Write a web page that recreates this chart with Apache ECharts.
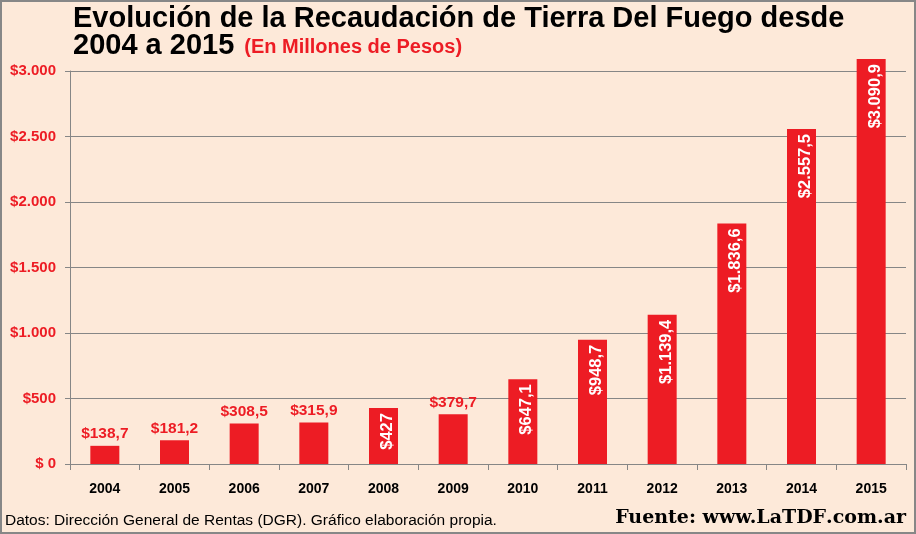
<!DOCTYPE html>
<html><head><meta charset="utf-8">
<script src="https://cdn.jsdelivr.net/npm/echarts@6/dist/echarts.min.js"></script>
<style>html,body{margin:0;padding:0;background:#FDE9D9;}#c{width:916px;height:534px;}</style>
</head><body><div id="c"></div>
<script>
const years = ['2004','2005','2006','2007','2008','2009','2010','2011','2012','2013','2014','2015'];
const values = [138.7,181.2,308.5,315.9,427,379.7,647.1,948.7,1139.4,1836.6,2557.5,3090.9];
const yTicks = [0,500,1000,1500,2000,2500,3000];
const titleLine1 = 'Evolución de la Recaudación de Tierra Del Fuego desde';
const titleLine2 = '2004 a 2015';
const subtitle = '(En Millones de Pesos)';
const footerLeft = 'Datos: Dirección General de Rentas (DGR). Gráfico elaboración propia.';

function fmtNum(v){
  const parts = String(v).split('.');
  const intp = parts[0].replace(/\B(?=(\d{3})+(?!\d))/g,'.');
  return parts.length>1 ? intp + ',' + parts[1] : intp;
}
const labelFmt = p => '$' + fmtNum(p.value);
const RED = '#ED1C24';
const chart = echarts.init(document.getElementById('c'));
const data = values.map(v => {
  const inside = v >= 400;
  return {
    value: v,
    label: inside ? {
      show: true, position: 'insideTop', rotate: 90, align: 'right', verticalAlign: 'middle',
      offset: [0, 4], color: '#fff', fontSize: 16.5, fontWeight: 'bold', fontFamily: 'Liberation Sans', formatter: labelFmt
    } : {
      show: true, position: 'top', distance: 4, color: RED, fontSize: 15.5, fontWeight: 'bold', fontFamily: 'Liberation Sans', formatter: labelFmt
    }
  };
});
chart.setOption({
  backgroundColor: '#FDE9D9',
  animation: false,
  grid: {left: 70, right: 10, top: 71, bottom: 70},
  xAxis: {
    type: 'category', data: years,
    axisLine: {lineStyle: {color: '#868686', width: 1}},
    axisTick: {show: true, length: 6, lineStyle: {color: '#868686'}},
    axisLabel: {color: '#000', fontSize: 14, fontWeight: 'bold', fontFamily: 'Liberation Sans', margin: 18}
  },
  yAxis: {
    type: 'value', min: 0, max: 3000, interval: 500,
    axisLine: {show: true, lineStyle: {color: '#868686'}},
    axisTick: {show: true, length: 5, lineStyle: {color: '#868686'}},
    splitLine: {lineStyle: {color: '#868686', width: 1}},
    axisLabel: {
      color: RED, fontSize: 15, fontWeight: 'bold', fontFamily: 'Liberation Sans', margin: 14,
      formatter: v => v === 0 ? '$ 0' : '$' + fmtNum(v)
    }
  },
  series: [{
    type: 'bar', data: data, clip: false, barWidth: 29,
    label: {formatter: labelFmt},
    itemStyle: {color: RED}
  }],
  graphic: [
    {type: 'text', left: 73, top: 4, style: {text: titleLine1, fill: '#000', font: 'bold 29px "Liberation Sans"'}},
    {type: 'text', left: 73, top: 31, style: {
      text: '{a|' + titleLine2 + '}{b|' + subtitle + '}',
      rich: {a: {fontSize: 29, fontWeight: 'bold', fontFamily: 'Liberation Sans', verticalAlign: 'bottom'},
             b: {fill: RED, color: RED, fontSize: 20, fontWeight: 'bold', fontFamily: 'Liberation Sans', verticalAlign: 'bottom', padding: [0,0,3,10]}}
    }},
    {type: 'text', left: 5, top: 513, style: {text: footerLeft, fill: '#000', font: '15.5px "Liberation Sans"'}},
    {type: 'text', right: 10, top: 509, style: {
      text: '{k|Fuente: www.}{r|LaTDF}{k|.com.ar}',
      rich: {k: {color: '#000', fontSize: 19, fontWeight: 'bold', fontFamily: 'DejaVu Serif'},
             r: {color: RED, fontSize: 19, fontWeight: 'bold', fontFamily: 'DejaVu Serif'}}
    }},
    {type: 'rect', shape: {x: 1, y: 1, width: 914, height: 532}, style: {fill: 'none', stroke: '#878787', lineWidth: 2}, silent: true}
  ]
});
</script></body></html>
